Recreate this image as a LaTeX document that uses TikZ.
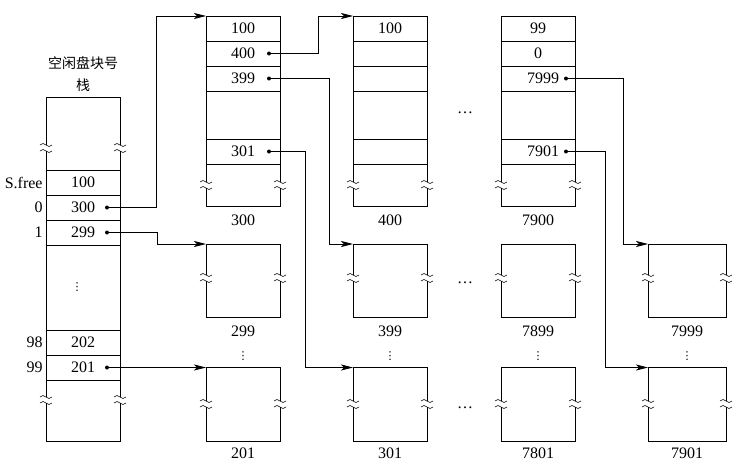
\documentclass[tikz,border=0pt]{standalone}
\usepackage{fontspec}
\setmainfont{Liberation Serif}
\newfontfamily\cjk{Noto Sans CJK SC}
\newfontfamily\sym{DejaVu Sans}
\usepackage{tikz}
\usetikzlibrary{arrows.meta,positioning}
\tikzstyle{edge}=[-{Stealth[length=12pt,width=6pt,inset=3pt]}, line width=0.8pt]

\begin{document}
\begin{tikzpicture}[x=1pt,y=-1pt,line width=0.8pt,font=\fontsize{16}{19}\selectfont,
          cell/.style={draw,minimum width=74pt,minimum height=25pt,inner sep=0pt,outer sep=0pt},
          box/.style={draw,minimum height=73pt,inner sep=0pt,outer sep=0pt,anchor=north west},
          num/.style={inner sep=0pt},
          dots/.style={inner sep=0pt,font=\sym\fontsize{11}{11}\selectfont}]
        \useasboundingbox (0,0) rectangle (743,471);
        % free block stack
        \node [cell,anchor=north west,minimum height=73pt] (stop) at (46,97) {};
        \node [cell,below=0pt of stop]                    (sfree) {100};
        \node [cell,below=0pt of sfree]                   (s0)    {300};
        \node [cell,below=0pt of s0]                      (s1)    {299};
        \node [cell,below=0pt of s1,minimum height=85pt]  (sgap)  {};
        \node [cell,below=0pt of sgap]                    (s98)   {202};
        \node [cell,below=0pt of s98]                     (s99)   {201};
        \node [cell,below=0pt of s99,minimum height=61pt] (sbot)  {};
        \node [dots] (vgap) at ([xshift=-6pt]sgap.center) {⋮};
        \node [num,left=3pt of sfree] (lfree) {S.free};
        \node [num,left=3pt of s0]    (l0)    {0};
        \node [num,left=3pt of s1]    (l1)    {1};
        \node [num,left=3pt of s98]   (l98)   {98};
        \node [num,left=3pt of s99]   (l99)   {99};
        \node [num,above=5pt of stop,align=center,font=\cjk\fontsize{14}{22}\selectfont] (title) {空闲盘块号\\栈};
        % group head blocks
        \foreach \x/\n/\a/\b/\c/\d in {206/300/100/400/399/301, 353/400/100/{}/{}/{},
                                       501/7900/99/0/\hspace*{10pt}7999/\hspace*{10pt}7901} {
          \node [cell,anchor=north west] (r\n a) at (\x,16) {\a};
          \node [cell,below=0pt of r\n a] (r\n b) {\b};
          \node [cell,below=0pt of r\n b] (r\n c) {\c};
          \node [cell,below=0pt of r\n c,minimum height=48pt] (r\n d) {};
          \node [cell,below=0pt of r\n d] (r\n e) {\d};
          \node [cell,below=0pt of r\n e,minimum height=42pt] (r\n f) {};
          \node [num,below=8pt of r\n f] (n\n) {\n};
        }
        % plain blocks
        \foreach \x/\w/\t/\u in {206/74/299/201, 353/74/399/301, 501/74/7899/7801, 648/78/7999/7901} {
          \node [box,minimum width=\w pt] (b\t) at (\x,244) {};
          \node [num,below=8pt of b\t] (n\t) {\t};
          \node [dots] (v\t) at ([yshift=-39pt]b\t.south) {⋮};
          \node [box,minimum width=\w pt,minimum height=74pt] (b\u) at (\x,367.5) {};
          \node [num,below=6pt of b\u] (n\u) {\u};
        }
        \node (h1) at (465,113) {\ldots};
        \node (h2) at (465,283) {\ldots};
        \node (h3) at (465,408) {\ldots};
        % breaks
        \foreach \x/\y in {46/148,120/148,46/400,120/400,206/185,280/185,353/185,427/185,501/185,575/185,
                           206/278,280/278,353/278,427/278,501/278,575/278,648/278,726/278,
                           206/404,280/404,353/404,427/404,501/404,575/404,648/404,726/404} {
          \fill [white] (\x-2,\y-3) rectangle (\x+2,\y+3);
          \draw [line width=0.6pt] (\x-6,\y-3) sin (\x-3,\y-4.5) cos (\x,\y-3) sin (\x+3,\y-1.5) cos (\x+6,\y-3);
          \draw [line width=0.6pt] (\x-6,\y+3) sin (\x-3,\y+1.5) cos (\x,\y+3) sin (\x+3,\y+4.5) cos (\x+6,\y+3);
        }
        % pointers
        \coordinate (d300)  at ([xshift=-13pt]s0.east);
        \coordinate (d299)  at ([xshift=-13pt]s1.east);
        \coordinate (d201)  at ([xshift=-13pt]s99.east);
        \coordinate (d400)  at ([xshift=-11pt]r300b.east);
        \coordinate (d399)  at ([xshift=-11pt]r300c.east);
        \coordinate (d301)  at ([xshift=-11pt]r300e.east);
        \coordinate (d7999) at ([xshift=-9pt]r7900c.east);
        \coordinate (d7901) at ([xshift=-9pt]r7900e.east);
        \foreach \d in {d300,d299,d201,d400,d399,d301,d7999,d7901}
          \fill (\d) circle (2pt);
        \draw [edge] (d300)  -- ++(49,0) |- (r300a.north west);
        \draw [edge] (d299)  -- ++(50,0) |- (b299.north west);
        \draw [edge] (d201)  -- (b201.north west);
        \draw [edge] (d400)  -- ++(49,0) |- (r400a.north west);
        \draw [edge] (d399)  -- ++(60,0) |- (b399.north west);
        \draw [edge] (d301)  -- ++(36,0) |- (b301.north west);
        \draw [edge] (d7999) -- ++(57,0) |- (b7999.north west);
        \draw [edge] (d7901) -- ++(39,0) |- (b7901.north west);
      \end{tikzpicture}
\end{document}
